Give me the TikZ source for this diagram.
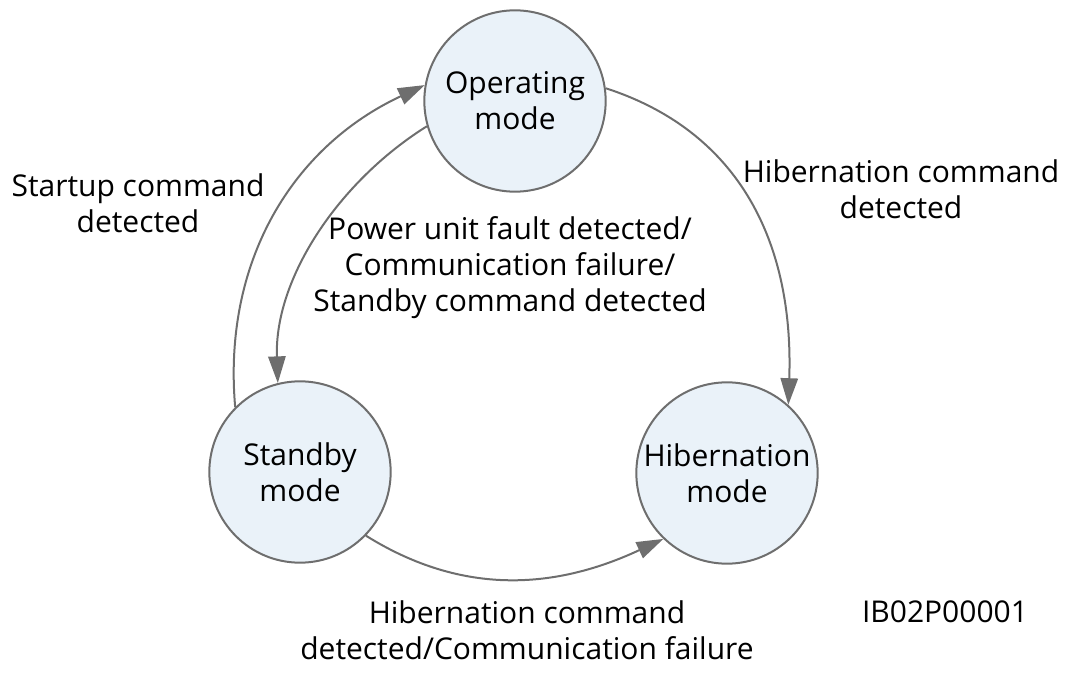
\documentclass[tikz,border=0pt]{standalone}
\usepackage{fontspec}
\setmainfont{Open Sans}
\usetikzlibrary{arrows.meta}
\definecolor{circfill}{HTML}{EAF2F9}
\definecolor{edgegray}{HTML}{6E6E6E}
\begin{document}
\begin{tikzpicture}[x=0.75pt,y=0.75pt,
  state/.style={circle,draw=edgegray,line width=1.5pt,fill=circfill,minimum size=136pt,inner sep=0pt,align=center,font=\fontsize{22.5}{27}\selectfont},
  lbl/.style={align=center,font=\fontsize{22.5}{27}\selectfont,inner sep=0pt},
  trans/.style={draw=edgegray,line width=1.5pt,-{Triangle[length=20pt,width=13pt]}}]
\useasboundingbox (0,0) rectangle (1077,-673);
\node[state] (op) at (515,-101) {Operating\\mode};
\node[state] (sb) at (300,-472) {Standby\\mode};
\node[state] (hb) at (727,-473) {Hibernation\\mode};
\draw[trans] (sb.135) to[out=95,in=205,looseness=1.0] (op.170);
\draw[trans] (op.196) to[out=212,in=92,looseness=0.9] (sb.104);
\draw[trans] (op.8) to[out=-18,in=88,looseness=1.05] (hb.48);
\draw[trans] (sb.-44) to[out=-32,in=205,looseness=1.0] (hb.226);
\node[lbl] (l1) at (138,-203) {Startup command\\detected};
\node[lbl] (l2) at (901,-189) {Hibernation command\\detected};
\node[lbl] (l3) at (510,-268) {Power unit fault detected/\\Communication failure/\\Standby command detected};
\node[lbl] (l4) at (527,-630) {Hibernation command\\detected/Communication failure};
\node[lbl] (l5) at (945,-612) {IB02P00001};
\end{tikzpicture}
\end{document}
